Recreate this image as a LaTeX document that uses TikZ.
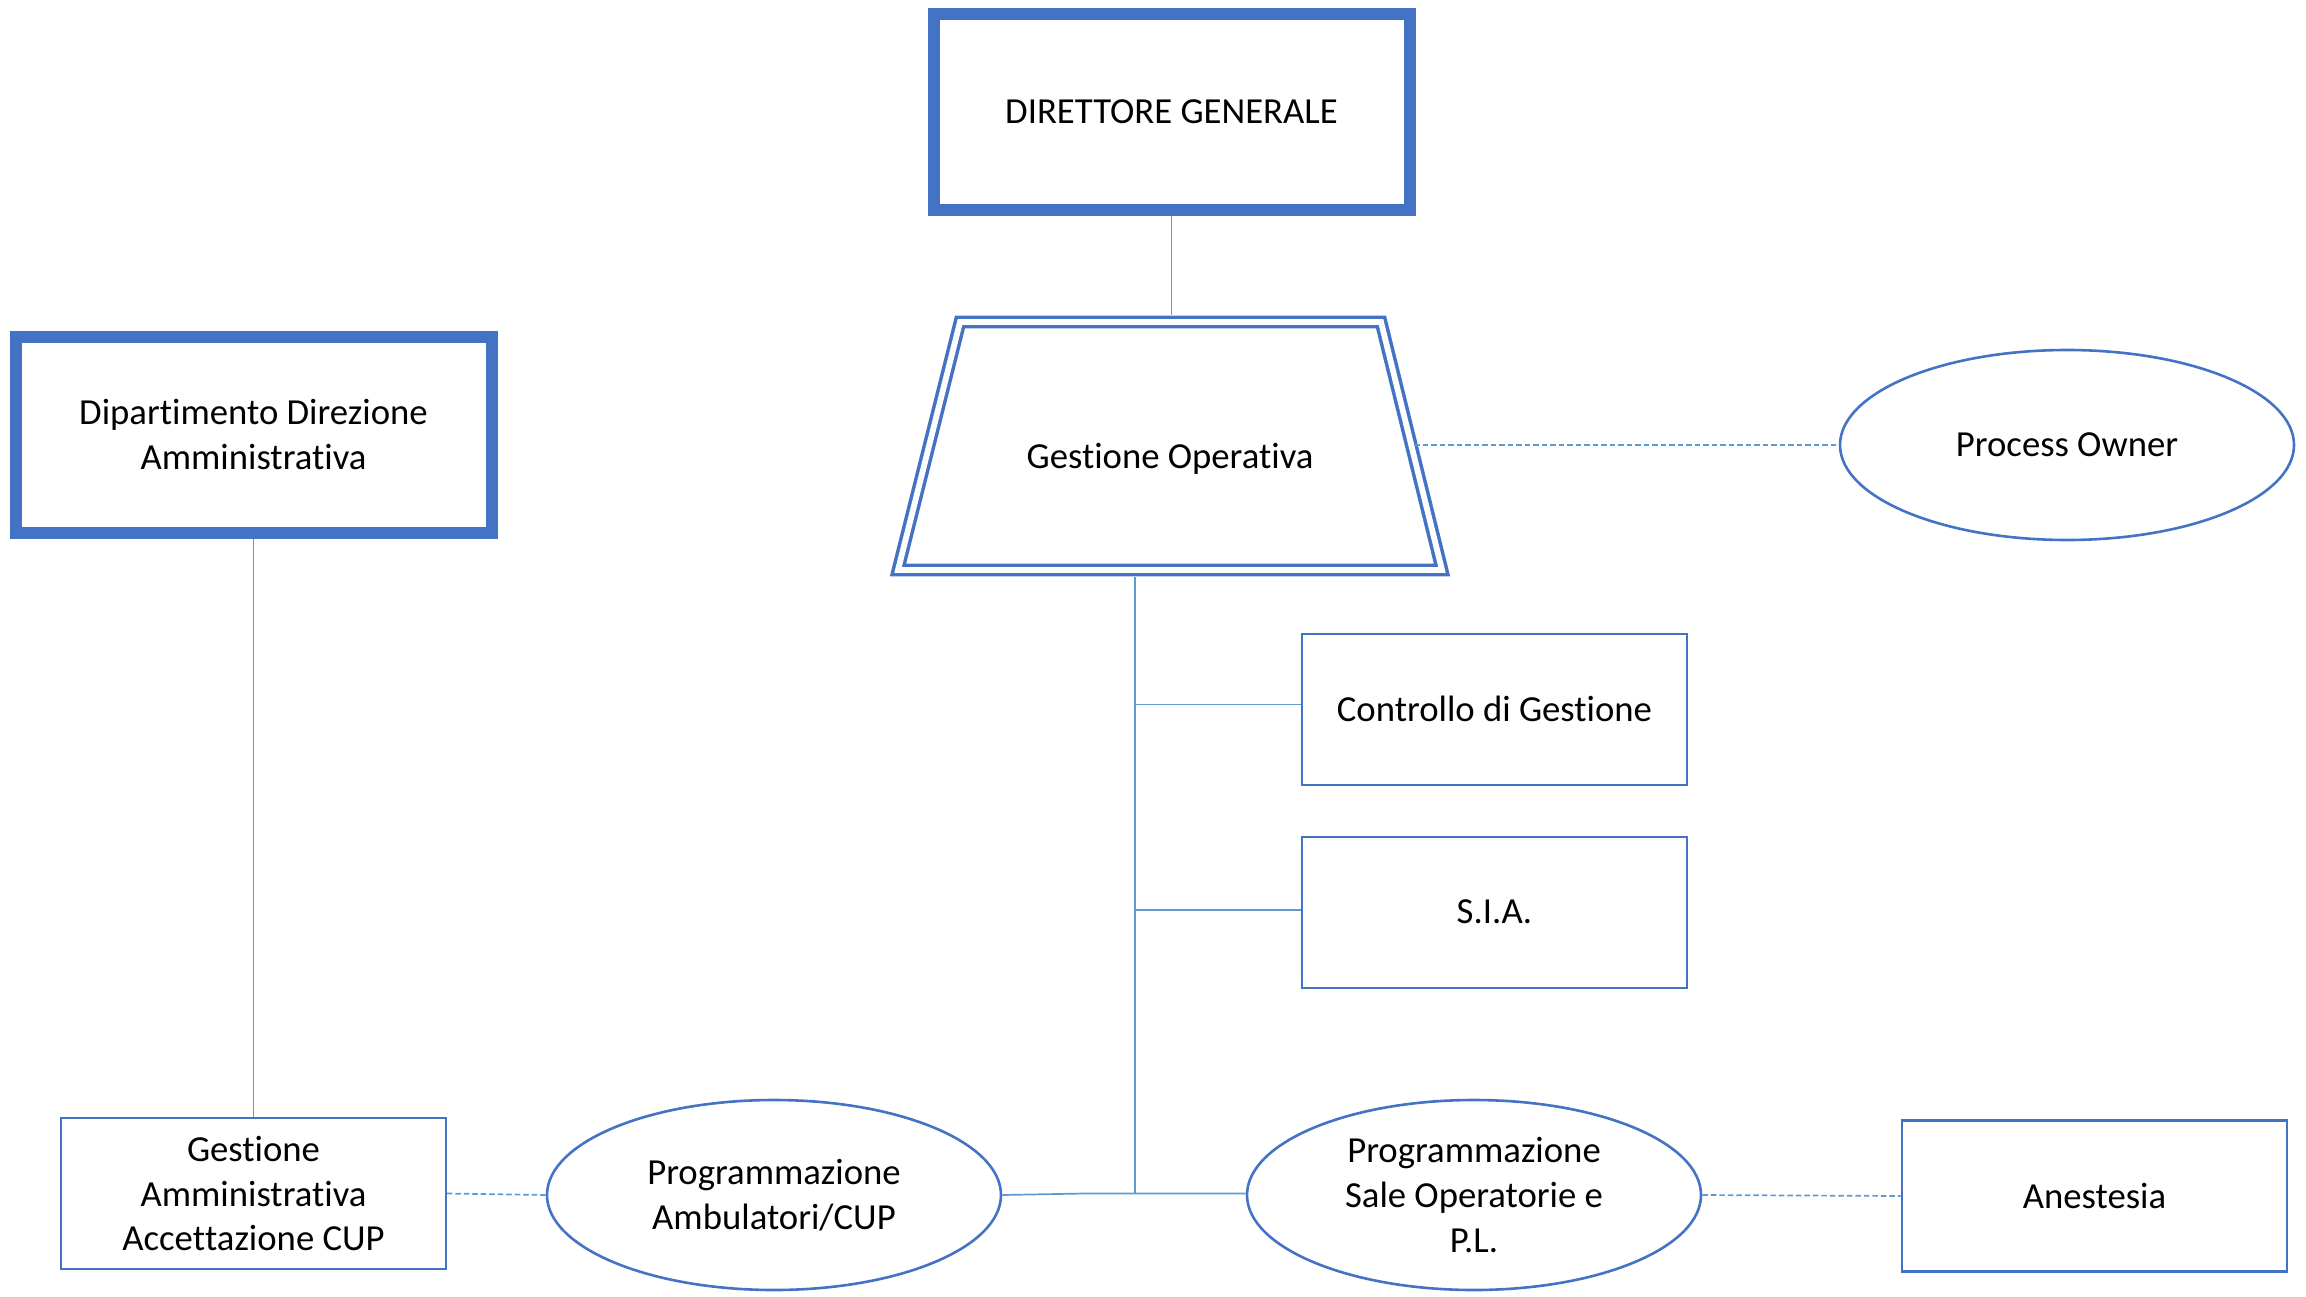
\documentclass[tikz,border=0pt]{standalone}
\usepackage{fontspec}
\setmainfont{Carlito}[Ligatures={NoCommon}]
\usetikzlibrary{shapes.geometric}
\definecolor{acc}{HTML}{4472C4}
\definecolor{conn}{HTML}{5B9BD5}
\newcommand\nolig{\kern0pt\relax}
\begin{document}
\begin{tikzpicture}[x=1pt,y=-1pt,
  every node/.style={font=\fontsize{36.7}{44.8}\selectfont, text=black, align=center, inner sep=0pt},
  bigbox/.style={draw=acc, line width=12pt, rectangle, minimum width=476pt, minimum height=196pt},
  thinbox/.style={draw=acc, line width=2pt, rectangle, minimum width=385pt, minimum height=151pt},
  oval/.style={draw=acc, line width=2.6pt, ellipse, minimum width=454pt, minimum height=190pt},
  trap/.style={draw=acc, line width=3.5pt, double=white, double distance=5.8pt},
  link/.style={draw=conn, line width=1.7pt},
  dlink/.style={draw=conn, line width=1.7pt, dash pattern=on 5.5pt off 3pt},
]
\fill[white] (0,0) rectangle (2306,1297);
\useasboundingbox (0,0) rectangle (2306,1297);

% boxes
\node[bigbox] (dg) at (1171.5,112) {DIRETTORE GENERALE};
\node[bigbox] (dip) at (253.5,434.5) {Dipart\nolig imento Direzione\\Amministrat\nolig iva};

% trapezoid
\draw[trap] (960,322) -- (1381,322) -- (1442,570) -- (898,570) -- cycle;
\node (go) at (1170,459) {Gest\nolig ione Operat\nolig iva};
\coordinate (gotop) at (1171.5,315);
\coordinate (gobot) at (1135,577);
\coordinate (goright) at (1414,445);

\node[thinbox] (ctrl) at (1494.5,709) {Controllo di Gest\nolig ione};
\node[thinbox] (sia) at (1494.5,912) {S.I.A.};
\node[thinbox, line width=1.5pt] (ga) at (253.5,1193.5) {Gest\nolig ione\\Amministrat\nolig iva\\Accet\nolig tazione CUP};
\node[oval] (amb) at (774,1195) {Programmazione\\Ambulatori/CUP};
\node[oval] (sale) at (1474,1195) {Programmazione\\Sale Operatorie e\\P.L.};
\node[thinbox, line width=2.6pt] (ane) at (2094.5,1196) {Anestesia};
\node[oval] (po) at (2067,445) {Process Owner};

% connectors
\coordinate (b1) at (1135,704.5);
\coordinate (b2) at (1135,910);
\coordinate (jn) at (1135,1193.5);
\coordinate (kink) at (1084,1193.5);

\draw[link] (dg.south) -- (gotop);
\draw[link] (dip.south) -- (ga.north);
\draw[link] (gobot) -- (jn);
\draw[link] (b1) -- (b1 -| ctrl.west);
\draw[link] (b2) -- (b2 -| sia.west);
\draw[link] (amb.east) -- (kink) -- (jn) -- (jn -| sale.west);
\draw[dlink] (goright) -- (po.west);
\draw[dlink] (ga.east) -- (amb.west);
\draw[dlink] (sale.east) -- (ane.west);
\end{tikzpicture}
\end{document}
